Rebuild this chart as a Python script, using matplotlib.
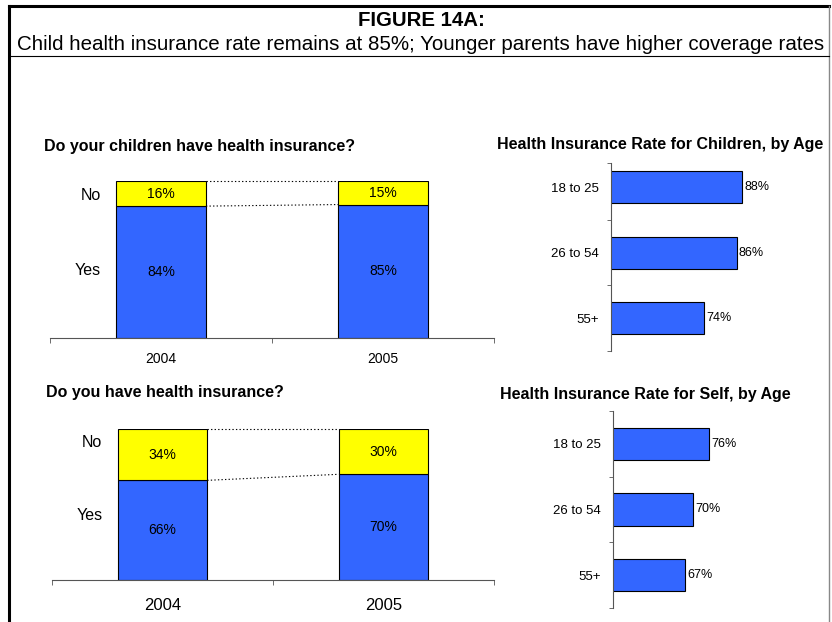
import matplotlib
matplotlib.use('Agg')
import matplotlib.pyplot as plt
from matplotlib.lines import Line2D

plt.rcParams['font.family'] = ['Liberation Sans', 'DejaVu Sans']

W, H = 832, 622

# data
years = ['2004', '2005']
kids_yes = [84, 85]
kids_no = [16, 15]
self_yes = [66, 70]
self_no = [34, 30]
age_groups = ['18 to 25', '26 to 54', '55+']
kids_by_age = [88, 86, 74]
self_by_age = [76, 70, 67]

BLUE = '#3366FF'
YELLOW = '#FFFF00'
AXC = '#555555'


def box(l, t, r, b):
    # pixel box -> figure fraction
    return [l / W, 1 - b / H, (r - l) / W, (b - t) / H]


def line_px(fig, x0, y0, x1, y1, **kw):
    fig.add_artist(Line2D([x0 / W, x1 / W], [1 - y0 / H, 1 - y1 / H],
                          transform=fig.transFigure, **kw))


fig = plt.figure(figsize=(W / 100, H / 100), dpi=100)


def stacked(ax, yes, no, yr_size, yr_pad):
    x = list(range(len(years)))
    w = 0.405
    ax.bar(x, yes, width=w, color=BLUE, edgecolor='black', lw=0.8)
    ax.bar(x, no, bottom=yes, width=w, color=YELLOW, edgecolor='black', lw=0.8)
    for i in x:
        ax.text(i, yes[i] / 2, f'{yes[i]}%', ha='center', va='center', fontsize=10)
        ax.text(i, yes[i] + no[i] / 2, f'{no[i]}%', ha='center', va='center', fontsize=10)
    tops = [y + n for y, n in zip(yes, no)]
    ax.plot([w / 2, 1 - w / 2], tops, ls=(0, (1.2, 2)), color='black', lw=0.8, clip_on=False)
    ax.plot([w / 2, 1 - w / 2], yes, ls=(0, (1.2, 2)), color='black', lw=0.8, clip_on=False)
    ax.text(-w / 2 - 0.07, 91, 'No', ha='right', va='center', fontsize=11.5)
    ax.text(-w / 2 - 0.07, 43, 'Yes', ha='right', va='center', fontsize=11.5)
    ax.set_xlim(-0.5, 1.5)
    ax.set_ylim(0, 100)
    ax.set_xticks(x)
    ax.set_xticklabels(years, fontsize=yr_size)
    ax.tick_params(axis='x', which='major', length=0, pad=yr_pad)
    ax.set_xticks([-0.5, 0.5, 1.5], minor=True)
    ax.tick_params(axis='x', which='minor', length=3.5, direction='out', color=AXC)
    ax.set_yticks([])
    for s in ['top', 'left', 'right']:
        ax.spines[s].set_visible(False)
    ax.spines['bottom'].set_color(AXC)
    ax.patch.set_visible(False)


def hbars(ax, vals, top):
    y = list(range(len(age_groups)))
    ax.barh(y, vals, height=0.49, color=BLUE, edgecolor='black', lw=0.8)
    for i, v in zip(y, vals):
        ax.text(v + 0.8, i, f'{v}%', va='center', ha='left', fontsize=9)
    ax.set_xlim(40, 100)
    ax.set_ylim(2.5, top)
    ax.set_yticks(y)
    ax.set_yticklabels(age_groups, fontsize=9.5)
    ax.tick_params(axis='y', which='major', length=0, pad=9)
    ax.set_yticks([top, 0.5, 1.5, 2.5], minor=True)
    ax.tick_params(axis='y', which='minor', length=3, direction='out', color=AXC)
    ax.set_xticks([])
    for s in ['top', 'bottom', 'right']:
        ax.spines[s].set_visible(False)
    ax.spines['left'].set_color(AXC)
    ax.patch.set_visible(False)


# left: stacked yes/no
ax1 = fig.add_axes(box(50, 181, 494, 338))
stacked(ax1, kids_yes, kids_no, 10, 10)
ax2 = fig.add_axes(box(52, 429, 494, 580))
stacked(ax2, self_yes, self_no, 12, 13)

# right: rate by age
ax3 = fig.add_axes(box(611, 163, 611 + 164, 351))
hbars(ax3, kids_by_age, -0.366)
ax4 = fig.add_axes(box(613, 411, 613 + 160, 608))
hbars(ax4, self_by_age, -0.5)

# titles
fig.text(44 / W, 1 - 146 / H, 'Do your children have health insurance?', ha='left', va='center',
         fontsize=11.5, weight='bold')
fig.text(46 / W, 1 - 393 / H, 'Do you have health insurance?', ha='left', va='center',
         fontsize=11.5, weight='bold')
fig.text(497 / W, 1 - 145 / H, 'Health Insurance Rate for Children, by Age', ha='left', va='center',
         fontsize=11.5, weight='bold')
fig.text(500 / W, 1 - 394 / H, 'Health Insurance Rate for Self, by Age', ha='left', va='center',
         fontsize=11.5, weight='bold')

# header
fig.text(421 / W, 1 - 21 / H, 'FIGURE 14A:', ha='center', va='center', fontsize=14.7, weight='bold')
fig.text(421 / W, 1 - 44 / H,
         'Child health insurance rate remains at 85%; Younger parents have higher coverage rates',
         ha='center', va='center', fontsize=14.8)

# frame
line_px(fig, 9, 6, 829, 6, color='black', lw=2.2)
line_px(fig, 9, 6, 9, 622, color='black', lw=2.2)
line_px(fig, 829, 6, 829, 622, color='#888888', lw=1)
line_px(fig, 9, 56, 829, 56, color='black', lw=0.8)

fig.savefig('out.png', dpi=100)
